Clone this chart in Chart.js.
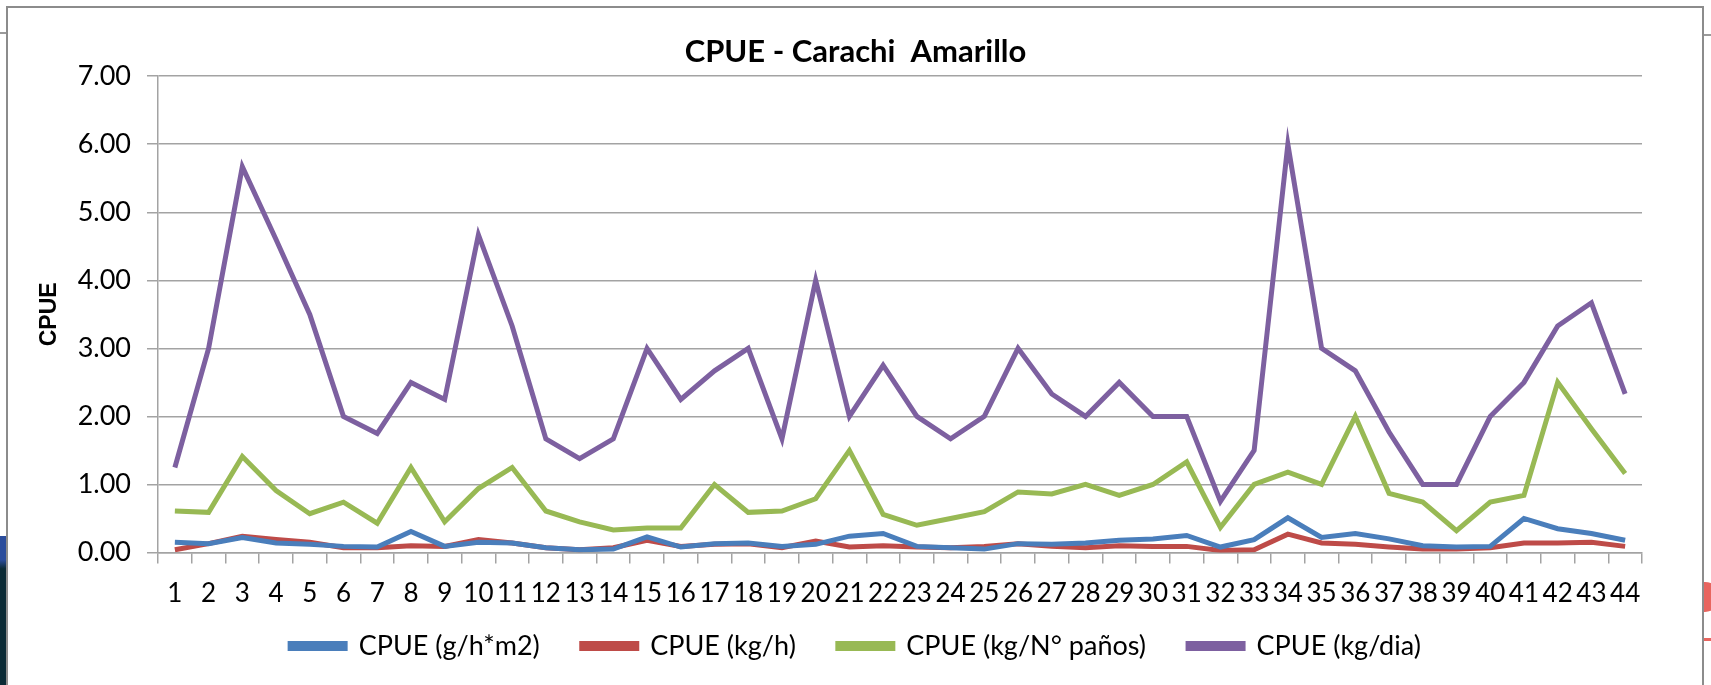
<!DOCTYPE html>
<html>
<head>
<meta charset="utf-8">
<script src="https://cdn.jsdelivr.net/npm/chart.js@4"></script>
<style>
  html, body { margin: 0; padding: 0; background: #fff; overflow: hidden; }
  #wrap { position: relative; width: 1711px; height: 685px; }
  #chart { position: absolute; left: 0; top: 0; }
  .frame { position: absolute; left: 6px; top: 6px; width: 1694px; height: 700px; border: 2px solid #8c8c8c; border-bottom: none; pointer-events: none; }
  .lineL { position: absolute; left: 0; top: 32px; width: 7px; height: 2px; background: #9a9a9a; }
  .lineR { position: absolute; left: 1702px; top: 34px; width: 9px; height: 2px; background: #9a9a9a; }
  .slideL { position: absolute; left: 0; top: 536px; width: 6px; height: 149px; background: linear-gradient(#2b4d9c 0, #2b4d9c 16%, #0b2b36 22%, #0b2b36 100%); }
  .dotR { position: absolute; left: 1690px; top: 582px; width: 30px; height: 30px; border-radius: 50%; background: #e8655f; clip-path: inset(0 0 0 13px); }
  .redR { position: absolute; left: 1703px; top: 638px; width: 8px; height: 3px; background: #e8655f; }
</style>
</head>
<body>
<div id="wrap">
  <canvas id="chart" width="1711" height="685"></canvas>
  <div class="slideL"></div>
  <div class="lineL"></div>
  <div class="lineR"></div>
  <div class="dotR"></div>
  <div class="redR"></div>
  <div class="frame"></div>
</div>
<script>
// categorias (muestreos 1..44)
const categorias = ['1','2','3','4','5','6','7','8','9','10','11','12','13','14','15','16','17','18','19','20','21','22',
  '23','24','25','26','27','28','29','30','31','32','33','34','35','36','37','38','39','40','41','42','43','44'];

const cpueGhM2 = [0.15,0.13,0.22,0.14,0.12,0.09,0.08,0.31,0.09,0.15,0.14,0.07,0.04,0.05,0.23,0.08,0.13,0.14,0.09,0.12,0.24,0.28,
  0.09,0.07,0.05,0.13,0.12,0.14,0.18,0.20,0.25,0.08,0.19,0.51,0.22,0.28,0.20,0.10,0.08,0.09,0.50,0.35,0.28,0.18];

const cpueKgH = [0.04,0.13,0.24,0.19,0.15,0.07,0.07,0.10,0.09,0.19,0.14,0.07,0.04,0.07,0.18,0.09,0.12,0.13,0.07,0.17,0.08,0.10,
  0.08,0.07,0.09,0.13,0.09,0.07,0.10,0.09,0.09,0.03,0.04,0.27,0.14,0.12,0.08,0.05,0.05,0.07,0.14,0.14,0.15,0.09];

const cpueKgPanos = [0.61,0.59,1.41,0.91,0.57,0.74,0.43,1.25,0.45,0.94,1.25,0.61,0.45,0.33,0.36,0.36,1.00,0.59,0.61,0.79,1.50,0.56,
  0.40,0.50,0.60,0.89,0.86,1.00,0.84,1.00,1.33,0.37,1.00,1.18,1.00,2.00,0.87,0.74,0.32,0.74,0.84,2.50,1.82,1.16];

const cpueKgDia = [1.25,3.00,5.67,4.60,3.50,2.00,1.75,2.50,2.25,4.67,3.33,1.67,1.38,1.67,3.00,2.25,2.67,3.00,1.67,4.00,2.00,2.75,
  2.00,1.67,2.00,3.00,2.33,2.00,2.50,2.00,2.00,0.75,1.50,6.00,3.00,2.67,1.77,1.00,1.00,2.00,2.50,3.33,3.67,2.33];

const yTicks = [0, 1, 2, 3, 4, 5, 6, 7];

const fuente = 'Lato, "Open Sans", sans-serif';
const gris = '#a3a3a3';

function serie(label, data, color) {
  return {
    label: label,
    data: data,
    borderColor: color,
    backgroundColor: color,
    borderWidth: 5,
    pointRadius: 0,
    pointHoverRadius: 0,
    tension: 0,
    fill: false
  };
}

// titulo y leyenda centrados sobre todo el grafico, leyenda a su altura
const ajusteCajas = {
  id: 'ajusteCajas',
  afterLayout(chart) {
    const t = chart.titleBlock;
    if (t) { t.left = 0; t.right = chart.width; }
    const l = chart.legend;
    if (l) {
      const h = l.height;
      l.left = 0;
      l.right = chart.width;
      l.top = 646 - 13.5 - l.options.labels.padding;
      l.bottom = l.top + h;
    }
  }
};

new Chart(document.getElementById('chart'), {
  type: 'line',
  data: {
    labels: categorias,
    datasets: [
      serie('CPUE (g/h*m2)', cpueGhM2, '#4a7ebb'),
      serie('CPUE (kg/h)', cpueKgH, '#be4b48'),
      serie('CPUE (kg/N° paños)', cpueKgPanos, '#98b954'),
      serie('CPUE (kg/dia)', cpueKgDia, '#7d60a0')
    ]
  },
  plugins: [ajusteCajas],
  options: {
    responsive: false,
    animation: false,
    layout: { padding: { left: 0, right: 69, top: 0, bottom: 0 } },
    plugins: {
      tooltip: { enabled: false },
      title: {
        display: true,
        text: 'CPUE - Carachi  Amarillo',
        color: '#000',
        font: { family: fuente, size: 31, weight: 'bold' },
        padding: { top: 33, bottom: 6 }
      },
      legend: {
        position: 'bottom',
        maxHeight: 70.5,
        labels: {
          color: '#000',
          font: { family: fuente, size: 27 },
          boxWidth: 55,
          boxHeight: 5,
          padding: 42
        }
      }
    },
    scales: {
      x: {
        offset: true,
        grid: { drawOnChartArea: false, drawTicks: true, tickLength: 11, offset: true, color: gris, lineWidth: 1.5 },
        border: { display: true, color: gris, width: 1.5 },
        ticks: { color: '#000', font: { family: fuente, size: 26 }, padding: 15, maxRotation: 0, autoSkip: false },
        afterFit: (scale) => { scale.height = 62; }
      },
      y: {
        min: 0,
        max: 7,
        afterBuildTicks: (scale) => { scale.ticks = yTicks.map(v => ({ value: v })); },
        grid: { color: gris, lineWidth: 1.5, drawTicks: true, tickLength: 11 },
        border: { display: true, color: gris, width: 1.5 },
        ticks: {
          color: '#000',
          font: { family: fuente, size: 27 },
          padding: 16,
          callback: (v) => Number(v).toFixed(2)
        },
        title: {
          display: true,
          text: 'CPUE',
          color: '#000',
          font: { family: '"Liberation Sans", Arial, sans-serif', size: 23, weight: 'bold' },
          padding: { top: 36, bottom: 0 }
        },
        afterFit: (scale) => { scale.width = 158; }
      }
    }
  }
});
</script>
</body>
</html>
